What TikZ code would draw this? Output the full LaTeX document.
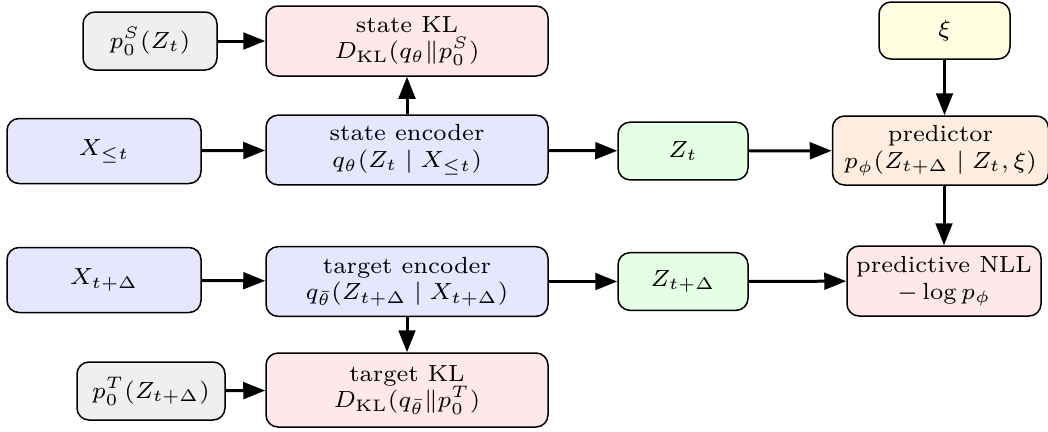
\documentclass[tikz,border=0pt]{standalone}
\usetikzlibrary{arrows.meta}
\definecolor{priorfill}{HTML}{EFEFEF}
\definecolor{lossfill}{HTML}{FFE8EA}
\definecolor{noisefill}{HTML}{FFFDE0}
\definecolor{encfill}{HTML}{E6E6FF}
\definecolor{latentfill}{HTML}{E5FFE5}
\definecolor{predfill}{HTML}{FFEEDF}
\begin{document}
\begin{tikzpicture}[x=0.3pt,y=-0.3pt,
  box/.style={draw=black, line width=0.45pt, rounded corners=3.6pt,
    align=center, font=\scriptsize, inner sep=1.5pt},
  prior/.style={box, fill=priorfill, minimum height=17.4pt},
  loss/.style={box, fill=lossfill, minimum width=84.6pt, minimum height=21pt},
  enc/.style={box, fill=encfill, minimum width=84.6pt, minimum height=20.9pt},
  obs/.style={box, fill=encfill, minimum width=58.2pt, minimum height=19.5pt},
  latent/.style={box, fill=latentfill, minimum width=39pt, minimum height=17.3pt},
  flow/.style={-{Triangle[length=6.6pt,width=5pt]}, line width=0.9pt}]
\useasboundingbox (0,0) rectangle (1048,431);

% top row: state prior and its KL term, noise input
\node[prior, minimum width=40.2pt] (pS) at (150,41) {$p_0^S(Z_t)$};
\node[loss] (skl) at (407,41) {state KL\\ $D_{\mathrm{KL}}(q_\theta \| p_0^S)$};
\node[box, fill=noisefill, minimum width=39.3pt, minimum height=17.1pt] (xi) at (944.5,30.5) {$\xi$};

% state branch
\node[obs] (xle) at (104,151) {$X_{\le t}$};
\node[enc] (senc) at (407,150) {state encoder\\ $q_\theta(Z_t \mid X_{\le t})$};
\node[latent] (zt) at (683,151) {$Z_t$};
\node[box, fill=predfill, minimum width=64.8pt, minimum height=20.7pt] (pred) at (940.5,150.5)
  {predictor\\ $p_\phi(Z_{t+\Delta} \mid Z_t, \xi)$};

% target branch
\node[obs] (xtd) at (104,280) {$X_{t+\Delta}$};
\node[enc] (tenc) at (407,281.5) {target encoder\\ $q_{\bar\theta}(Z_{t+\Delta} \mid X_{t+\Delta})$};
\node[latent] (ztd) at (683,281.5) {$Z_{t+\Delta}$};
\node[loss, minimum width=58.2pt] (nll) at (944,281) {predictive NLL\\ $-\log p_\phi$};

% target prior and its KL term
\node[prior, minimum width=44.4pt] (pT) at (151,391) {$p_0^T(Z_{t+\Delta})$};
\node[loss, minimum height=22.2pt] (tkl) at (407,390) {target KL\\ $D_{\mathrm{KL}}(q_{\bar\theta} \| p_0^T)$};

% connectors
\draw[flow] (pS) -- (skl);
\draw[flow] (senc) -- (skl);
\draw[flow] (xle) -- (senc);
\draw[flow] (senc) -- (zt);
\draw[flow] (zt) -- (pred);
\draw[flow] (xi) -- (xi |- pred.north);
\draw[flow] (pred.south -| nll) -- (nll);
\draw[flow] (xtd) -- (tenc);
\draw[flow] (tenc) -- (ztd);
\draw[flow] (ztd) -- (nll);
\draw[flow] (tenc) -- (tkl);
\draw[flow] (pT) -- (tkl);
\end{tikzpicture}
\end{document}
